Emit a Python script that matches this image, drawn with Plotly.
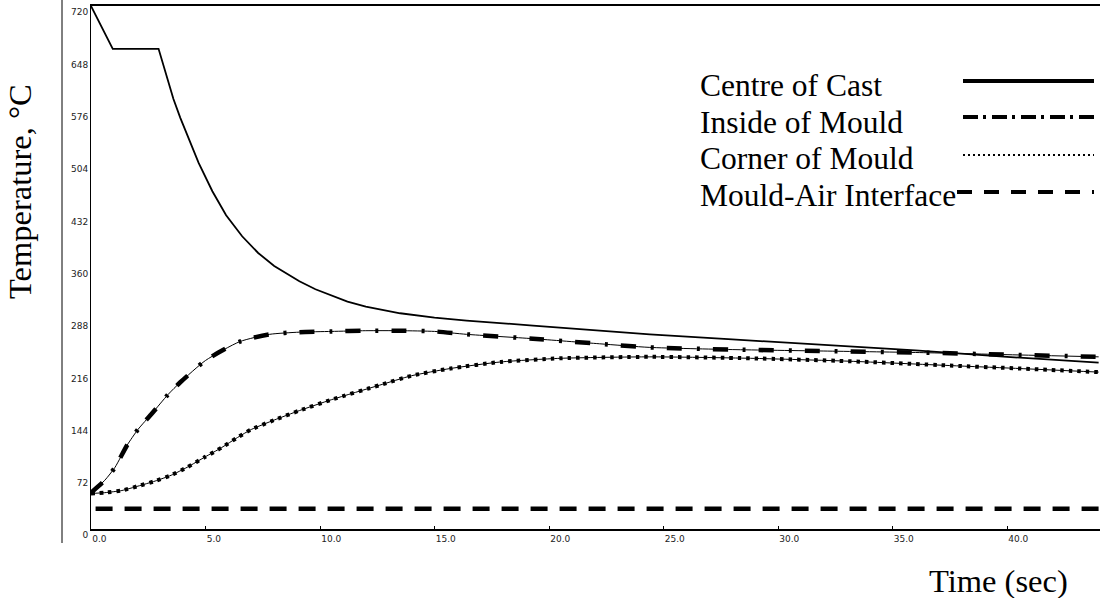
import plotly.graph_objects as go

# ---------------- data ----------------
time_centre = [0, 0.95, 2.95, 3.3, 3.6, 3.9, 4.3, 4.7, 5.3, 5.9, 6.6, 7.3, 8.0, 8.6, 9.1, 9.8, 10.5,
               11.2, 12.0, 13.5, 15.0, 16.4, 19.3, 22.2, 24.4, 28, 32, 36, 40, 44]
temp_centre = [720, 661, 661, 625, 592, 566, 535, 504, 465, 432, 403, 380, 362, 350, 341, 330, 321,
               313, 306, 297, 291, 287, 280, 273, 268, 261, 254, 246, 237, 229]

time_inside = [0, 0.6, 1.05, 1.57, 2.05, 2.66, 3.36, 3.9, 5.0, 6.5, 7.8, 9.1, 10.5,
               12.0, 13.5, 15.0, 16.4, 19.3, 22.2, 24.4, 28, 32, 36, 40, 44]
temp_inside = [50, 67, 85, 115, 137, 159, 185, 202, 232, 258, 268, 271, 272,
               273, 273, 272, 268, 262, 255, 250, 247, 245, 243, 240, 237]

time_corner = [0, 0.6, 1.35, 2.05, 2.8, 3.5, 4.2, 4.97, 5.7, 6.4, 7.0, 8.0, 9.1, 10.5,
               12.6, 14.0, 15.7, 17.9, 20.5, 24.4, 28.8, 33.1, 37.5, 40.5, 44]
temp_corner = [49, 50, 53, 59, 66, 74, 85, 99, 112, 126, 137, 150, 163, 178,
               198, 211, 221, 230, 235, 237, 235, 231, 225, 221, 216]

time_air = [0.2, 44]
temp_air = [28, 28]

x_ticks = [0, 5, 10, 15, 20, 25, 30, 35, 40]
y_ticks = [0, 72, 144, 216, 288, 360, 432, 504, 576, 648, 720]

series_names = ["Centre of Cast", "Inside of Mould", "Corner of Mould", "Mould-Air Interface"]

# ---------------- layout geometry ----------------
W, H = 1100, 598
ML, MR, MT, MB = 91, 0, 6, 69
PW, PH = W - ML - MR, H - MT - MB


def px(xp):
    return (xp - ML) / PW


def py(yp):
    return (H - MB - yp) / PH


fig = go.Figure()

# Thin underlay lines
fig.add_trace(go.Scatter(x=time_inside, y=temp_inside, mode="lines", showlegend=False,
                         line=dict(color="black", width=1, shape="spline", smoothing=0.6),
                         hoverinfo="skip"))
fig.add_trace(go.Scatter(x=time_corner, y=temp_corner, mode="lines", showlegend=False,
                         line=dict(color="black", width=1, shape="spline", smoothing=0.6),
                         hoverinfo="skip"))

fig.add_trace(go.Scatter(x=time_centre, y=temp_centre, mode="lines", name=series_names[0],
                         line=dict(color="black", width=1.8)))
fig.add_trace(go.Scatter(x=time_inside, y=temp_inside, mode="lines", name=series_names[1],
                         line=dict(color="black", width=4.5, dash="15px,15px,3px,13px",
                                   shape="spline", smoothing=0.6)))
fig.add_trace(go.Scatter(x=time_corner, y=temp_corner, mode="lines", name=series_names[2],
                         line=dict(color="black", width=4, dash="3.5px,5px",
                                   shape="spline", smoothing=0.6)))
fig.add_trace(go.Scatter(x=time_air, y=temp_air, mode="lines", name=series_names[3],
                         line=dict(color="black", width=4.5, dash="17px,12px")))

tick_font = dict(family="DejaVu Sans", size=9, color="#222")
serif = "Liberation Serif, Times New Roman, serif"

fig.update_layout(
    width=W, height=H,
    margin=dict(l=ML, r=MR, t=MT, b=MB),
    paper_bgcolor="white", plot_bgcolor="white",
    showlegend=False,
    xaxis=dict(range=[0, 44.06], showline=True, linecolor="black", linewidth=1.5,
               mirror=True, ticks="inside", ticklen=3, tickcolor="black",
               tickvals=x_ticks, ticktext=[f"{v:.1f}" for v in x_ticks],
               ticklabelposition="outside right", tickfont=tick_font,
               showgrid=False, zeroline=False),
    yaxis=dict(range=[0, 720], showline=True, linecolor="black", linewidth=1,
               ticks="", tickvals=y_ticks, ticktext=[str(v) for v in y_ticks],
               ticklabelposition="outside bottom", tickfont=tick_font,
               showgrid=False, zeroline=False),
)

annotations = [
    dict(text="Temperature, °C", x=px(20), y=py(192), xref="paper", yref="paper",
         textangle=-90, showarrow=False, font=dict(family=serif, size=32.5, color="black"),
         xanchor="center", yanchor="middle"),
    dict(text="Time (sec)", x=px(998), y=py(581), xref="paper", yref="paper",
         showarrow=False, font=dict(family=serif, size=32.5, color="black"),
         xanchor="center", yanchor="middle"),
]
legend_rows = [86, 122, 159, 195]
for name, yc in zip(series_names, legend_rows):
    annotations.append(dict(text=name, x=px(698), y=py(yc), xref="paper", yref="paper",
                            showarrow=False, xanchor="left", yanchor="middle",
                            font=dict(family=serif, size=31.5, color="black")))
fig.update_layout(annotations=annotations)

shapes = [
    dict(type="line", xref="paper", yref="paper", x0=px(62), x1=px(62), y0=py(0), y1=py(543),
         line=dict(color="black", width=1)),
]
legend_lines = [
    (963, 81, dict(color="black", width=4)),
    (963, 117, dict(color="black", width=4, dash="15px,5px,3px,6px")),
    (963, 155, dict(color="black", width=2, dash="2px,3px")),
    (957, 192, dict(color="black", width=4, dash="15px,12px")),
]
for x0, yl, ln in legend_lines:
    shapes.append(dict(type="line", xref="paper", yref="paper", x0=px(x0), x1=px(1094),
                       y0=py(yl), y1=py(yl), line=ln))
fig.update_layout(shapes=shapes)

fig.write_html("out.html", config={"displayModeBar": False},
               post_script="document.body.style.margin='0';document.body.style.padding='0';")
